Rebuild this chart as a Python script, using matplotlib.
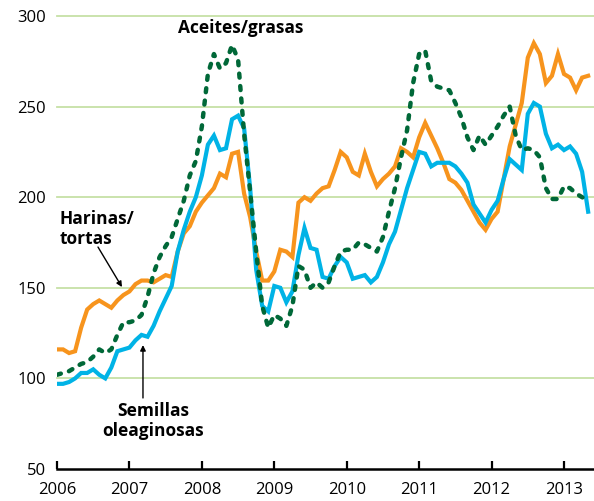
import matplotlib
matplotlib.use("Agg")
import matplotlib.pyplot as plt
import numpy as np

# Monthly index values, Jan 2006 - May 2013
harinas = [116, 116, 114, 115, 128, 138, 141, 143, 141, 139, 143, 146,
           148, 152, 154, 154, 153, 155, 157, 156, 170, 180, 184, 192,
           197, 201, 205, 213, 211, 224, 225, 202, 189, 170, 154, 154,
           159, 171, 170, 167, 197, 200, 198, 202, 205, 206, 215, 225,
           222, 214, 212, 224, 214, 206, 210, 213, 217, 227, 225, 222,
           233, 241, 234, 227, 219, 210, 208, 204, 198, 192, 186, 182,
           188, 192, 210, 228, 240, 252, 277, 285, 279, 263, 267, 279,
           268, 266, 259, 266, 267]
semillas = [97, 97, 98, 100, 103, 103, 105, 102, 100, 106, 115, 116,
            117, 121, 124, 123, 129, 137, 144, 151, 170, 182, 192, 200,
            212, 229, 234, 226, 227, 243, 245, 238, 205, 160, 140, 137,
            151, 150, 142, 148, 168, 183, 172, 171, 156, 155, 162, 167,
            164, 155, 156, 157, 153, 156, 164, 174, 181, 193, 205, 215,
            225, 224, 217, 219, 219, 219, 217, 213, 208, 196, 191, 186,
            193, 198, 210, 221, 218, 215, 246, 252, 250, 235, 227, 229,
            226, 228, 224, 214, 192]
aceites = [102, 103, 104, 106, 108, 109, 112, 116, 114, 116, 124, 131,
           131, 132, 135, 145, 158, 167, 173, 178, 188, 198, 212, 220,
           239, 268, 279, 271, 274, 284, 276, 235, 203, 170, 140, 128,
           135, 133, 129, 140, 162, 160, 150, 153, 150, 153, 162, 170,
           171, 171, 175, 174, 172, 170, 178, 192, 205, 222, 237, 263,
           279, 281, 264, 261, 260, 259, 252, 244, 233, 226, 234, 229,
           234, 239, 245, 250, 234, 226, 227, 226, 222, 205, 199, 199,
           206, 205, 202, 200, 198]
years = [2006, 2007, 2008, 2009, 2010, 2011, 2012, 2013]
yticks = [50, 100, 150, 200, 250, 300]

t = 2006 + np.arange(len(harinas)) / 12.0

plt.rcParams['font.family'] = ['Open Sans', 'DejaVu Sans']

fig = plt.figure(figsize=(5.94, 5.01), dpi=100)
ax = fig.add_axes([57/594, 32/501, 537/594, 453/501])

orange = '#f7941d'
blue = '#00b3e6'
green = '#006838'
gridc = '#c6e1a6'

for yv in yticks[1:]:
    ax.axhline(yv, color=gridc, lw=1.3, zorder=0, clip_on=False)

ax.plot(t, harinas, color=orange, lw=3.0, solid_joinstyle='miter', zorder=3)
ax.plot(t, semillas, color=blue, lw=3.0, solid_joinstyle='miter', zorder=4)
ax.plot(t, aceites, color=green, lw=3.2, linestyle=(0, (0.9, 1.9)),
        dash_capstyle='round', zorder=5)

ax.set_xlim(2006, 2006 + 537/72.43)
ax.set_ylim(50, 300)

for s in ['top', 'right', 'left']:
    ax.spines[s].set_visible(False)
ax.spines['bottom'].set_linewidth(1.8)
ax.spines['bottom'].set_color('black')

ax.set_xticks(years)
ax.set_xticklabels([str(y) for y in years])
ax.set_yticks(yticks)
ax.set_yticklabels([str(y) for y in yticks])
ax.tick_params(axis='x', direction='in', length=6, width=1.6, pad=9,
               labelsize=12, colors='black')
ax.tick_params(axis='y', length=0, pad=8, labelsize=12, colors='black')

ax.text(2008.53, 293.4, 'Aceites/grasas', ha='center', va='center',
        fontsize=12.5, fontweight='bold')
ax.text(2006.04, 182.5, 'Harinas/\ntortas', ha='left', va='center',
        fontsize=12.5, fontweight='bold', linespacing=1.1)
ax.text(2007.33, 76.5, 'Semillas\noleaginosas', ha='center', va='center',
        fontsize=12.5, fontweight='bold', linespacing=1.1)

ap = dict(arrowstyle='-|>', color='black', lw=1.0, mutation_scale=8,
          shrinkA=0, shrinkB=0)
ax.annotate('', xy=(2006.897, 150.4), xytext=(2006.566, 172.5), arrowprops=ap)
ax.annotate('', xy=(2007.187, 118.4), xytext=(2007.187, 89.2), arrowprops=ap)

fig.savefig('out.png', dpi=100)
